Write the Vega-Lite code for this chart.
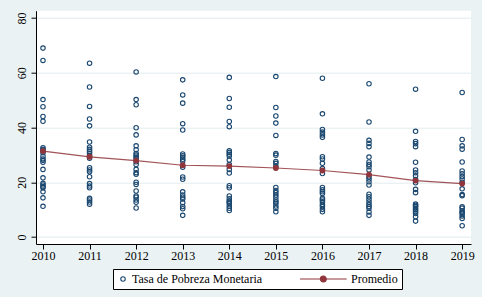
{
  "$schema": "https://vega.github.io/schema/vega-lite/v6.json",
  "width": 435,
  "height": 233.3,
  "autosize": {"type": "none"},
  "padding": {"left": 36, "top": 10.7, "right": 11, "bottom": 53},
  "background": "#EAF2F3",
  "config": {
    "view": {"fill": "white", "stroke": null},
    "font": "Liberation Serif",
    "axis": {
      "domainColor": "black",
      "domainWidth": 1,
      "tickColor": "black",
      "tickSize": 5,
      "labelFont": "Liberation Serif",
      "labelFontSize": 12,
      "labelColor": "black",
      "title": null
    },
    "legend": {
      "labelFont": "Liberation Serif",
      "labelFontSize": 12,
      "labelColor": "black"
    }
  },
  "datasets": {
    "pts": [
      {"year": 2010, "rate": 69.0}, {"year": 2010, "rate": 64.5}, {"year": 2010, "rate": 50.2}, {"year": 2010, "rate": 47.6}, {"year": 2010, "rate": 44.0}, {"year": 2010, "rate": 42.3}, {"year": 2010, "rate": 32.6}, {"year": 2010, "rate": 32.0}, {"year": 2010, "rate": 31.5}, {"year": 2010, "rate": 30.8}, {"year": 2010, "rate": 29.5}, {"year": 2010, "rate": 28.5}, {"year": 2010, "rate": 28.0}, {"year": 2010, "rate": 27.3}, {"year": 2010, "rate": 24.7}, {"year": 2010, "rate": 21.6}, {"year": 2010, "rate": 19.6}, {"year": 2010, "rate": 19.0}, {"year": 2010, "rate": 18.4}, {"year": 2010, "rate": 18.0}, {"year": 2010, "rate": 16.5}, {"year": 2010, "rate": 14.3}, {"year": 2010, "rate": 11.2},
      {"year": 2011, "rate": 63.5}, {"year": 2011, "rate": 54.8}, {"year": 2011, "rate": 47.7}, {"year": 2011, "rate": 43.1}, {"year": 2011, "rate": 40.6}, {"year": 2011, "rate": 34.7}, {"year": 2011, "rate": 32.8}, {"year": 2011, "rate": 32.0}, {"year": 2011, "rate": 31.3}, {"year": 2011, "rate": 30.6}, {"year": 2011, "rate": 29.8}, {"year": 2011, "rate": 28.8}, {"year": 2011, "rate": 25.3}, {"year": 2011, "rate": 24.5}, {"year": 2011, "rate": 23.8}, {"year": 2011, "rate": 22.0}, {"year": 2011, "rate": 19.5}, {"year": 2011, "rate": 18.6}, {"year": 2011, "rate": 18.0}, {"year": 2011, "rate": 14.1}, {"year": 2011, "rate": 13.5}, {"year": 2011, "rate": 12.8}, {"year": 2011, "rate": 12.0},
      {"year": 2012, "rate": 60.3}, {"year": 2012, "rate": 50.2}, {"year": 2012, "rate": 48.3}, {"year": 2012, "rate": 39.9}, {"year": 2012, "rate": 37.3}, {"year": 2012, "rate": 33.3}, {"year": 2012, "rate": 31.9}, {"year": 2012, "rate": 30.5}, {"year": 2012, "rate": 29.9}, {"year": 2012, "rate": 29.2}, {"year": 2012, "rate": 28.7}, {"year": 2012, "rate": 27.5}, {"year": 2012, "rate": 26.5}, {"year": 2012, "rate": 24.7}, {"year": 2012, "rate": 23.5}, {"year": 2012, "rate": 22.9}, {"year": 2012, "rate": 20.0}, {"year": 2012, "rate": 19.2}, {"year": 2012, "rate": 16.8}, {"year": 2012, "rate": 15.0}, {"year": 2012, "rate": 14.5}, {"year": 2012, "rate": 13.5}, {"year": 2012, "rate": 12.7}, {"year": 2012, "rate": 10.6},
      {"year": 2013, "rate": 57.4}, {"year": 2013, "rate": 51.9}, {"year": 2013, "rate": 48.9}, {"year": 2013, "rate": 41.4}, {"year": 2013, "rate": 39.1}, {"year": 2013, "rate": 30.3}, {"year": 2013, "rate": 29.7}, {"year": 2013, "rate": 29.1}, {"year": 2013, "rate": 28.4}, {"year": 2013, "rate": 27.8}, {"year": 2013, "rate": 25.5}, {"year": 2013, "rate": 21.9}, {"year": 2013, "rate": 21.1}, {"year": 2013, "rate": 16.5}, {"year": 2013, "rate": 15.3}, {"year": 2013, "rate": 14.5}, {"year": 2013, "rate": 13.9}, {"year": 2013, "rate": 12.5}, {"year": 2013, "rate": 11.1}, {"year": 2013, "rate": 10.3}, {"year": 2013, "rate": 7.9},
      {"year": 2014, "rate": 58.3}, {"year": 2014, "rate": 50.6}, {"year": 2014, "rate": 47.4}, {"year": 2014, "rate": 42.2}, {"year": 2014, "rate": 40.3}, {"year": 2014, "rate": 31.5}, {"year": 2014, "rate": 30.9}, {"year": 2014, "rate": 30.2}, {"year": 2014, "rate": 29.6}, {"year": 2014, "rate": 28.1}, {"year": 2014, "rate": 26.5}, {"year": 2014, "rate": 24.7}, {"year": 2014, "rate": 23.4}, {"year": 2014, "rate": 18.7}, {"year": 2014, "rate": 18.0}, {"year": 2014, "rate": 15.0}, {"year": 2014, "rate": 14.0}, {"year": 2014, "rate": 13.1}, {"year": 2014, "rate": 12.8}, {"year": 2014, "rate": 12.2}, {"year": 2014, "rate": 11.3}, {"year": 2014, "rate": 10.5}, {"year": 2014, "rate": 9.7},
      {"year": 2015, "rate": 58.6}, {"year": 2015, "rate": 47.3}, {"year": 2015, "rate": 44.2}, {"year": 2015, "rate": 41.6}, {"year": 2015, "rate": 37.1}, {"year": 2015, "rate": 30.5}, {"year": 2015, "rate": 29.9}, {"year": 2015, "rate": 27.6}, {"year": 2015, "rate": 26.9}, {"year": 2015, "rate": 25.8}, {"year": 2015, "rate": 18.1}, {"year": 2015, "rate": 17.0}, {"year": 2015, "rate": 16.2}, {"year": 2015, "rate": 15.3}, {"year": 2015, "rate": 14.5}, {"year": 2015, "rate": 13.5}, {"year": 2015, "rate": 12.8}, {"year": 2015, "rate": 12.3}, {"year": 2015, "rate": 11.3}, {"year": 2015, "rate": 10.5}, {"year": 2015, "rate": 9.2},
      {"year": 2016, "rate": 58.0}, {"year": 2016, "rate": 45.0}, {"year": 2016, "rate": 39.3}, {"year": 2016, "rate": 38.3}, {"year": 2016, "rate": 37.3}, {"year": 2016, "rate": 36.4}, {"year": 2016, "rate": 29.3}, {"year": 2016, "rate": 28.5}, {"year": 2016, "rate": 26.9}, {"year": 2016, "rate": 25.0}, {"year": 2016, "rate": 23.2}, {"year": 2016, "rate": 18.1}, {"year": 2016, "rate": 17.2}, {"year": 2016, "rate": 16.5}, {"year": 2016, "rate": 15.9}, {"year": 2016, "rate": 14.1}, {"year": 2016, "rate": 13.5}, {"year": 2016, "rate": 12.9}, {"year": 2016, "rate": 11.9}, {"year": 2016, "rate": 11.1}, {"year": 2016, "rate": 10.1}, {"year": 2016, "rate": 9.2},
      {"year": 2017, "rate": 56.0}, {"year": 2017, "rate": 42.0}, {"year": 2017, "rate": 35.3}, {"year": 2017, "rate": 34.2}, {"year": 2017, "rate": 33.0}, {"year": 2017, "rate": 29.2}, {"year": 2017, "rate": 27.4}, {"year": 2017, "rate": 26.5}, {"year": 2017, "rate": 25.7}, {"year": 2017, "rate": 24.5}, {"year": 2017, "rate": 22.0}, {"year": 2017, "rate": 21.2}, {"year": 2017, "rate": 20.2}, {"year": 2017, "rate": 19.0}, {"year": 2017, "rate": 15.6}, {"year": 2017, "rate": 14.7}, {"year": 2017, "rate": 13.8}, {"year": 2017, "rate": 12.8}, {"year": 2017, "rate": 11.9}, {"year": 2017, "rate": 11.1}, {"year": 2017, "rate": 10.5}, {"year": 2017, "rate": 9.1}, {"year": 2017, "rate": 7.9},
      {"year": 2018, "rate": 54.0}, {"year": 2018, "rate": 38.6}, {"year": 2018, "rate": 34.9}, {"year": 2018, "rate": 34.1}, {"year": 2018, "rate": 33.0}, {"year": 2018, "rate": 27.3}, {"year": 2018, "rate": 24.5}, {"year": 2018, "rate": 23.5}, {"year": 2018, "rate": 22.4}, {"year": 2018, "rate": 21.0}, {"year": 2018, "rate": 19.8}, {"year": 2018, "rate": 17.4}, {"year": 2018, "rate": 16.2}, {"year": 2018, "rate": 12.0}, {"year": 2018, "rate": 11.5}, {"year": 2018, "rate": 11.1}, {"year": 2018, "rate": 10.5}, {"year": 2018, "rate": 9.9}, {"year": 2018, "rate": 9.3}, {"year": 2018, "rate": 8.6}, {"year": 2018, "rate": 7.4}, {"year": 2018, "rate": 5.8},
      {"year": 2019, "rate": 52.8}, {"year": 2019, "rate": 35.6}, {"year": 2019, "rate": 33.3}, {"year": 2019, "rate": 32.1}, {"year": 2019, "rate": 27.4}, {"year": 2019, "rate": 24.1}, {"year": 2019, "rate": 23.1}, {"year": 2019, "rate": 22.1}, {"year": 2019, "rate": 21.2}, {"year": 2019, "rate": 20.0}, {"year": 2019, "rate": 17.6}, {"year": 2019, "rate": 15.5}, {"year": 2019, "rate": 15.1}, {"year": 2019, "rate": 11.0}, {"year": 2019, "rate": 10.5}, {"year": 2019, "rate": 9.6}, {"year": 2019, "rate": 9.0}, {"year": 2019, "rate": 8.6}, {"year": 2019, "rate": 7.7}, {"year": 2019, "rate": 6.8}, {"year": 2019, "rate": 4.1}
    ],
    "avg": [
      {"year": 2010, "rate": 31.4}, {"year": 2011, "rate": 29.3}, {"year": 2012, "rate": 27.9}, {"year": 2013, "rate": 26.2}, {"year": 2014, "rate": 25.9},
      {"year": 2015, "rate": 25.2}, {"year": 2016, "rate": 24.3}, {"year": 2017, "rate": 22.8}, {"year": 2018, "rate": 20.6}, {"year": 2019, "rate": 19.5}
    ]
  },
  "encoding": {
    "x": {
      "field": "year", "type": "quantitative",
      "scale": {"domain": [2009.85, 2019.19], "nice": false, "zero": false},
      "axis": {"values": [2010, 2011, 2012, 2013, 2014, 2015, 2016, 2017, 2018, 2019], "format": "d", "grid": false, "labelPadding": 1, "labelFlush": false, "labelOverlap": false}
    },
    "y": {
      "field": "rate", "type": "quantitative",
      "scale": {"domain": [-2.56, 82.67], "nice": false, "zero": false},
      "axis": {"values": [0, 20, 40, 60, 80], "grid": true, "gridColor": "#E3ECEE", "gridWidth": 1, "labelAngle": -90, "labelPadding": 3}
    }
  },
  "layer": [
    {
      "data": {"name": "pts"},
      "mark": {"type": "point", "opacity": 1, "size": 20, "strokeWidth": 1.1},
      "encoding": {
        "shape": {
          "datum": "Tasa de Pobreza Monetaria", "type": "nominal",
          "scale": {"domain": ["Tasa de Pobreza Monetaria", "Promedio"], "range": ["circle", "M-18.8,0H2.1M-9.7,0A1.34,1.34 0 1,0 -7.02,0A1.34,1.34 0 1,0 -9.7,0Z"]},
          "legend": {
            "orient": "none", "legendX": 77, "legendY": 258.3, "direction": "horizontal", "columns": 2,
            "title": null, "strokeColor": "black", "fillColor": "white", "padding": 4,
            "labelFont": "Liberation Serif", "labelFontSize": 12, "labelColor": "black",
            "labelOffset": 3, "columnPadding": 34, "symbolSize": 20, "symbolStrokeWidth": 1.1
          }
        },
        "stroke": {
          "datum": "Tasa de Pobreza Monetaria", "type": "nominal",
          "scale": {"domain": ["Tasa de Pobreza Monetaria", "Promedio"], "range": ["#1A476F", "#90353B"]}
        },
        "fill": {
          "datum": "Tasa de Pobreza Monetaria", "type": "nominal",
          "scale": {"domain": ["Tasa de Pobreza Monetaria", "Promedio"], "range": ["transparent", "#90353B"]}
        }
      }
    },
    {
      "data": {"name": "avg"},
      "mark": {"type": "line", "color": "#90353B", "strokeWidth": 1.2, "opacity": 0.85},
      "encoding": {}
    },
    {
      "data": {"name": "avg"},
      "mark": {"type": "point", "filled": true, "color": "#90353B", "opacity": 1, "size": 34},
      "encoding": {}
    }
  ]
}
